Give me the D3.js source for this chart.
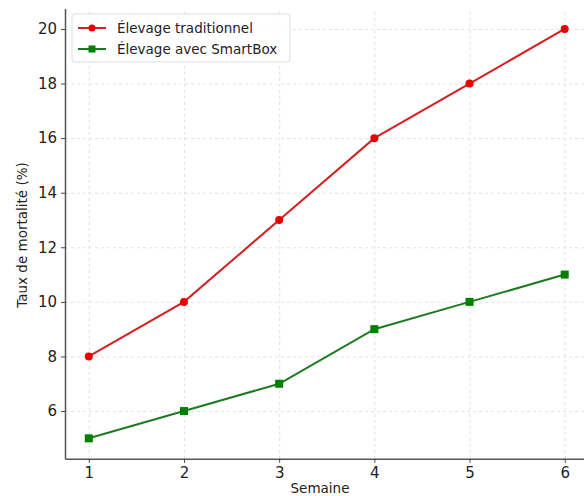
<!DOCTYPE html>
<html>
<head>
<meta charset="utf-8">
<script src="https://cdn.jsdelivr.net/npm/d3@7"></script>
<style>
  body { margin: 0; background: #fff; }
  svg { display: block; font-family: "DejaVu Sans", sans-serif; }
  .grid line { stroke: #d9d9d9; stroke-dasharray: 3,3; stroke-width: 0.8; }
  .grid path { display: none; }
</style>
</head>
<body>
<svg width="584" height="496"></svg>
<script>
// data
const semaines = [1, 2, 3, 4, 5, 6];
const traditionnel = [8, 10, 13, 16, 18, 20];
const smartbox = [5, 6, 7, 9, 10, 11];
const yTicks = [6, 8, 10, 12, 14, 16, 18, 20];
const seriesNames = ["Élevage traditionnel", "Élevage avec SmartBox"];

const svg = d3.select("svg");

const x = d3.scaleLinear().domain([0.75, 6.25]).range([65, 588.5]);
const y = d3.scaleLinear().domain([4.25, 20.75]).range([458.8, 8.5]);

// grid
svg.append("g").attr("class", "grid")
  .attr("transform", "translate(0,458.8)")
  .call(d3.axisBottom(x).tickValues(semaines).tickSize(-450).tickFormat(""));
svg.append("g").attr("class", "grid")
  .attr("transform", "translate(65,0)")
  .call(d3.axisLeft(y).tickValues(yTicks).tickSize(-530).tickFormat(""));

// axes
const xAxis = svg.append("g")
  .attr("transform", "translate(0,458.8)")
  .call(d3.axisBottom(x).tickValues(semaines).tickFormat(d3.format("d"))
    .tickSize(4).tickPadding(5).tickSizeOuter(0));
const yAxis = svg.append("g")
  .attr("transform", "translate(65,0)")
  .call(d3.axisLeft(y).tickValues(yTicks).tickSize(4).tickPadding(4).tickSizeOuter(0));
[xAxis, yAxis].forEach(a => {
  a.selectAll("text").attr("font-size", 15).attr("fill", "#222").attr("font-family", "DejaVu Sans, sans-serif");
  a.selectAll("line").attr("stroke", "#444");
  a.select(".domain").attr("stroke", "#555").attr("stroke-width", 1.5);
});

// axis labels
svg.append("text")
  .attr("x", 320).attr("y", 493)
  .attr("text-anchor", "middle").attr("font-size", 13.5).attr("fill", "#222")
  .text("Semaine");
svg.append("text")
  .attr("transform", "translate(27,235) rotate(-90)")
  .attr("text-anchor", "middle").attr("font-size", 13.5).attr("fill", "#222")
  .text("Taux de mortalité (%)");

const line = d3.line().x((d, i) => x(semaines[i])).y(d => y(d));

// red series
svg.append("path").datum(traditionnel)
  .attr("fill", "none").attr("stroke", "#d42020").attr("stroke-width", 2)
  .attr("d", line);
svg.selectAll("circle.trad").data(traditionnel).enter()
  .append("circle").attr("class", "trad")
  .attr("cx", (d, i) => x(semaines[i])).attr("cy", d => y(d))
  .attr("r", 4).attr("fill", "#e60000");

// green series
svg.append("path").datum(smartbox)
  .attr("fill", "none").attr("stroke", "#1e7a1e").attr("stroke-width", 2)
  .attr("d", line);
svg.selectAll("rect.smart").data(smartbox).enter()
  .append("rect").attr("class", "smart")
  .attr("x", (d, i) => x(semaines[i]) - 4).attr("y", d => y(d) - 4)
  .attr("width", 8).attr("height", 8).attr("fill", "#008000");

// legend
const leg = svg.append("g");
leg.append("rect")
  .attr("x", 72).attr("y", 14).attr("width", 218).attr("height", 48)
  .attr("rx", 3).attr("fill", "#fff").attr("fill-opacity", 0.85)
  .attr("stroke", "#dddddd");
const legColors = [["#d42020", "#e60000"], ["#1e7a1e", "#008000"]];
seriesNames.forEach((name, i) => {
  const ly = 28 + i * 21;
  leg.append("line").attr("x1", 78).attr("x2", 106).attr("y1", ly).attr("y2", ly)
    .attr("stroke", legColors[i][0]).attr("stroke-width", 2);
  if (i === 0) {
    leg.append("circle").attr("cx", 92).attr("cy", ly).attr("r", 3.5).attr("fill", legColors[i][1]);
  } else {
    leg.append("rect").attr("x", 88.5).attr("y", ly - 3.5).attr("width", 7).attr("height", 7).attr("fill", legColors[i][1]);
  }
  leg.append("text").attr("x", 117).attr("y", ly + 5)
    .attr("font-size", 13.5).attr("fill", "#222").text(name);
});
</script>
</body>
</html>
